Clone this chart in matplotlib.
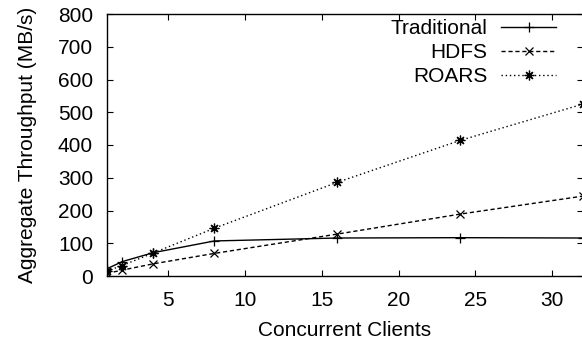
import matplotlib
matplotlib.use("Agg")
import matplotlib.pyplot as plt

plt.rcParams['font.family'] = ['Liberation Sans', 'DejaVu Sans']

# data
clients = [1, 2, 4, 8, 16, 24, 32]
traditional = [22, 44, 71, 107, 116, 117, 116]
hdfs = [8, 18, 37, 69, 128, 189, 244]
roars = [15, 32, 70, 146, 286, 414, 525]

yticks = [0, 100, 200, 300, 400, 500, 600, 700, 800]
xticks = [5, 10, 15, 20, 25, 30]

W, H = 582, 340
fig = plt.figure(figsize=(W / 100, H / 100), dpi=100)
# axes runs slightly past the right edge, like the original
ax = fig.add_axes([106.9 / W, (H - 276) / H, (583 - 106.9) / W, (276 - 14) / H])

ax.plot(clients, traditional, color='black', lw=1.0, ls='-',
        marker='+', ms=7, mew=0.9, label='Traditional')
ax.plot(clients, hdfs, color='black', lw=1.0, ls=(0, (3, 2)),
        marker='x', ms=5.5, mew=0.9, label='HDFS')
ax.plot(clients, roars, color='black', lw=1.0, ls=(0, (1, 2)),
        marker=(8, 2, 0), ms=7, mew=0.9, label='ROARS')

ax.set_xlim(1, 32)
ax.set_ylim(0, 800)
ax.set_xticks(xticks)
ax.set_yticks(yticks)
ax.tick_params(direction='in', top=True, right=True, length=4.5,
               width=0.8, labelsize=15, pad=10.5)
ax.tick_params(axis='y', pad=10)
for s in ax.spines.values():
    s.set_linewidth(1.0)

ax.set_xlabel('Concurrent Clients', fontsize=15, labelpad=8.5)
ax.set_ylabel('Aggregate Throughput (MB/s)', fontsize=15, labelpad=15)

ax.legend(loc='upper right', bbox_to_anchor=(556 / W, 1 - 19 / H),
          bbox_transform=fig.transFigure, frameon=False, markerfirst=False,
          fontsize=15, handlelength=2.64, handletextpad=0.66,
          labelspacing=0.25, borderpad=0, borderaxespad=0)

fig.savefig('out.png', dpi=100)
